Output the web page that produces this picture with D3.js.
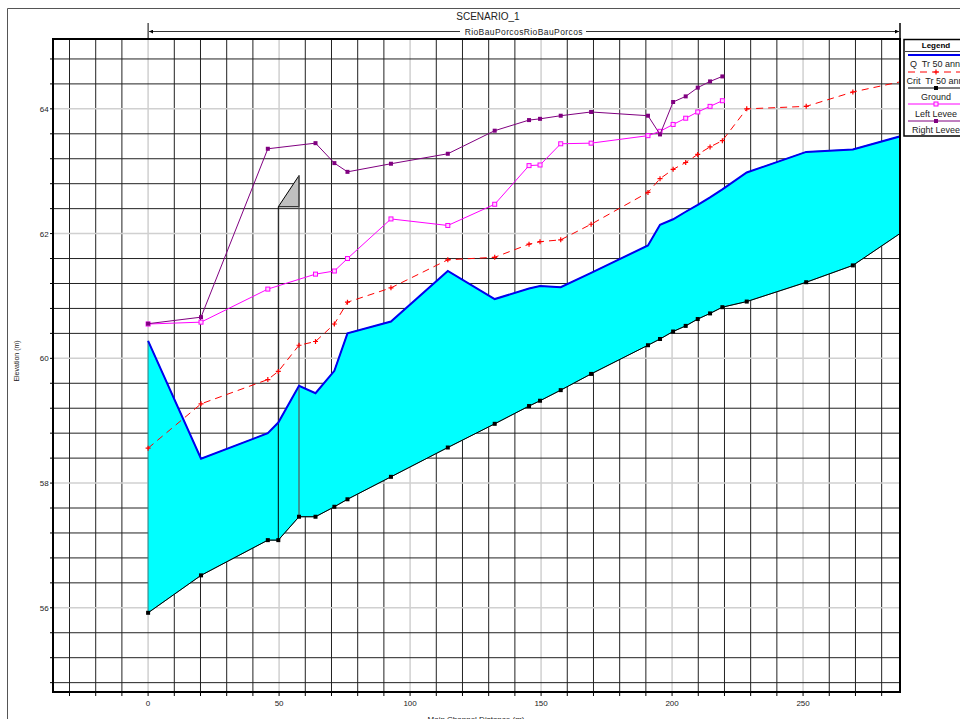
<!DOCTYPE html>
<html>
<head>
<meta charset="utf-8">
<script src="https://cdn.jsdelivr.net/npm/d3@7"></script>
<style>
  html, body { margin: 0; padding: 0; background: #fff; overflow: hidden; }
  svg { display: block; font-family: "Liberation Sans", Arial, sans-serif; }
</style>
</head>
<body>
<svg id="chart" width="960" height="719"></svg>
<script>
// ---------------- data ----------------
const title = "SCENARIO_1";
const reachLabel = "RioBauPorcosRioBauPorcos";
const xTitle = "Main Channel Distance (m)";
const yTitle = "Elevation (m)";

const stations = [0, 20.2, 45.7, 49.7, 57.6, 63.9, 71.1, 76.1, 92.7, 114.4, 132.3, 145.4, 149.6, 157.5, 169.1, 190.8, 195.4, 200.4, 205.2, 209.8, 214.5, 219.2, 228.5, 251.2, 269.0, 300];
const ground = [55.92, 56.52, 57.085, 57.085, 57.46, 57.46, 57.62, 57.74, 58.10, 58.57, 58.95, 59.235, 59.32, 59.49, 59.75, 60.21, 60.31, 60.43, 60.52, 60.63, 60.72, 60.82, 60.91, 61.22, 61.49, 62.37];
const wsTr50 = [60.28, 58.39, 58.80, 58.97, 59.56, 59.44, 59.80, 60.40, 60.59, 61.40, 60.95, 61.12, 61.16, 61.14, 61.37, 61.81, 62.14, 62.23, 62.35, 62.46, 62.58, 62.71, 62.98, 63.31, 63.35, 63.71];
const critTr50 = [58.56, 59.27, 59.66, 59.79, 60.21, 60.27, 60.55, 60.90, 61.13, 61.58, 61.62, 61.83, 61.87, 61.90, 62.15, 62.66, 62.88, 63.03, 63.14, 63.27, 63.39, 63.49, 64.00, 64.04, 64.27, 64.55];
const leftLevee = [60.55, 60.58, 61.11, null, null, 61.35, 61.40, 61.60, 62.235, 62.13, 62.47, 63.09, 63.10, 63.44, 63.45, 63.57, 63.64, 63.75, 63.85, 63.95, 64.04, 64.13];
const rightLevee = [60.555, 60.66, 63.36, null, null, 63.45, 63.13, 62.99, 63.12, 63.28, 63.65, 63.82, 63.84, 63.89, 63.95, 63.89, 63.59, 64.11, 64.20, 64.34, 64.44, 64.52];

// inline structure (between two stations)
const structStations = [49.7, 57.6];
const structDeck = [62.43, 62.93];

const xTickLabels = [0, 50, 100, 150, 200, 250];
const yTickLabels = [56, 58, 60, 62, 64];
const xDomain = [-36.3, 287];
const yDomain = [54.65, 65.12];

const legendItems = ["Q  Tr 50 anni", "Crit  Tr 50 anni", "Ground", "Left Levee", "Right Levee"];

// ---------------- layout ----------------
const svg = d3.select("#chart");
const L = 53, R = 900, T = 39, B = 692;
const x = d3.scaleLinear().domain(xDomain).range([L, R]);
const y = d3.scaleLinear().domain(yDomain).range([B, T]);
const MS = 4; // marker size

// outer frame
svg.append("line").attr("x1", 7.5).attr("x2", 7.5).attr("y1", 8.5).attr("y2", 719).attr("stroke", "#555");
svg.append("line").attr("x1", 7.5).attr("x2", 960).attr("y1", 8.5).attr("y2", 8.5).attr("stroke", "#555");

// title
svg.append("text").attr("x", 488).attr("y", 20).attr("text-anchor", "middle")
  .attr("font-size", 10).attr("fill", "#222").text(title);

// reach extent line
const defs = svg.append("defs");
defs.append("marker").attr("id", "arrL").attr("viewBox", "0 0 6 6").attr("refX", 0).attr("refY", 3)
  .attr("markerWidth", 5).attr("markerHeight", 5).attr("orient", "auto")
  .append("path").attr("d", "M6,0 L0,3 L6,6 Z").attr("fill", "#000");
defs.append("marker").attr("id", "arrR").attr("viewBox", "0 0 6 6").attr("refX", 6).attr("refY", 3)
  .attr("markerWidth", 5).attr("markerHeight", 5).attr("orient", "auto")
  .append("path").attr("d", "M0,0 L6,3 L0,6 Z").attr("fill", "#000");

const reachStart = x(0), reachEnd = R;
svg.append("line").attr("x1", reachStart).attr("x2", reachStart).attr("y1", 23).attr("y2", T).attr("stroke", "#000").attr("stroke-width", 1);
svg.append("line").attr("x1", reachEnd).attr("x2", reachEnd).attr("y1", 23).attr("y2", T).attr("stroke", "#000").attr("stroke-width", 1.5);
svg.append("line").attr("x1", reachStart + 1).attr("x2", 460).attr("y1", 31.5).attr("y2", 31.5)
  .attr("stroke", "#000").attr("stroke-width", 0.8).attr("marker-start", "url(#arrL)");
svg.append("line").attr("x1", 586).attr("x2", reachEnd - 1).attr("y1", 31.5).attr("y2", 31.5)
  .attr("stroke", "#000").attr("stroke-width", 0.8).attr("marker-end", "url(#arrR)");
svg.append("text").attr("x", 523.8).attr("y", 34.5).attr("text-anchor", "middle")
  .attr("font-size", 8.5).attr("letter-spacing", 0.4).attr("fill", "#222").text(reachLabel);

// clip
defs.append("clipPath").attr("id", "plotClip").append("rect")
  .attr("x", L).attr("y", T).attr("width", R - L).attr("height", B - T);

// grid
const grid = svg.append("g");
const xGrid = d3.range(-30, 290, 10);
xGrid.forEach(v => {
  const major = xTickLabels.includes(v);
  grid.append("line").attr("x1", x(v)).attr("x2", x(v)).attr("y1", T).attr("y2", B)
    .attr("stroke", major ? "#d0d0d0" : "#222").attr("stroke-width", major ? 1.5 : 1);
  grid.append("line").attr("x1", x(v)).attr("x2", x(v)).attr("y1", B).attr("y2", B + 4)
    .attr("stroke", "#000").attr("stroke-width", 1);
});
const yGrid = d3.range(0, 26).map(i => +(54.8 + 0.4 * i).toFixed(1));
yGrid.forEach(v => {
  const major = yTickLabels.includes(v);
  grid.append("line").attr("x1", L).attr("x2", R).attr("y1", y(v)).attr("y2", y(v))
    .attr("stroke", major ? "#d0d0d0" : "#222").attr("stroke-width", major ? 1.5 : 1);
  grid.append("line").attr("x1", L - 3).attr("x2", L).attr("y1", y(v)).attr("y2", y(v))
    .attr("stroke", "#000").attr("stroke-width", 1);
});

// tick labels
xTickLabels.forEach(v => {
  svg.append("text").attr("x", x(v)).attr("y", 706).attr("text-anchor", "middle")
    .attr("font-size", 8).attr("fill", "#222").text(v);
});
yTickLabels.forEach(v => {
  svg.append("text").attr("x", 48.7).attr("y", y(v) + 3).attr("text-anchor", "end")
    .attr("font-size", 8).attr("fill", "#222").text(v);
});

// axis titles
svg.append("text").attr("x", 476).attr("y", 721.5).attr("text-anchor", "middle")
  .attr("font-size", 8).attr("fill", "#222").text(xTitle);
svg.append("text").attr("transform", "translate(19,361) rotate(-90)").attr("text-anchor", "middle")
  .attr("font-size", 7).attr("fill", "#222").text(yTitle);

// plot content
const plot = svg.append("g").attr("clip-path", "url(#plotClip)");

const wsData = stations.map((s, i) => ({ s, g: ground[i], w: wsTr50[i] }));
plot.append("path").datum(wsData)
  .attr("d", d3.area().x(d => x(d.s)).y0(d => y(d.g)).y1(d => y(d.w)))
  .attr("fill", "#00ffff").attr("stroke", "#2a8a8a").attr("stroke-width", 1);

// structure
const sx0 = x(structStations[0]), sx1 = x(structStations[1]);
const sg0 = ground[stations.indexOf(structStations[0])];
const sg1 = ground[stations.indexOf(structStations[1])];
plot.append("path")
  .attr("d", `M${sx0},${y(structDeck[0])} L${sx1},${y(structDeck[0])} L${sx1},${y(structDeck[1])} Z`)
  .attr("fill", "#c0c0c0").attr("stroke", "#000").attr("stroke-width", 1);
plot.append("line").attr("x1", sx0).attr("x2", sx0).attr("y1", y(structDeck[0])).attr("y2", y(sg0))
  .attr("stroke", "#000").attr("stroke-width", 1);
plot.append("line").attr("x1", sx1).attr("x2", sx1).attr("y1", y(structDeck[1])).attr("y2", y(sg1))
  .attr("stroke", "#555").attr("stroke-width", 1.6).attr("stroke-opacity", 0.75);

// water surface line
plot.append("path").datum(wsData)
  .attr("d", d3.line().x(d => x(d.s)).y(d => y(d.w)))
  .attr("fill", "none").attr("stroke", "#0000ee").attr("stroke-width", 2);

// ground
plot.append("path").datum(wsData)
  .attr("d", d3.line().x(d => x(d.s)).y(d => y(d.g)))
  .attr("fill", "none").attr("stroke", "#000").attr("stroke-width", 1);
plot.selectAll(".gm").data(wsData).enter().append("rect")
  .attr("x", d => x(d.s) - MS / 2).attr("y", d => y(d.g) - MS / 2).attr("width", MS).attr("height", MS)
  .attr("fill", "#000");

// critical
const critData = stations.map((s, i) => ({ s, v: critTr50[i] }));
plot.append("path").datum(critData)
  .attr("d", d3.line().x(d => x(d.s)).y(d => y(d.v)))
  .attr("fill", "none").attr("stroke", "#ff0000").attr("stroke-width", 1).attr("stroke-dasharray", "7,5");
critData.forEach(d => {
  const cx = x(d.s), cy = y(d.v);
  plot.append("path").attr("d", `M${cx - 2.5},${cy} H${cx + 2.5} M${cx},${cy - 2.5} V${cy + 2.5}`)
    .attr("stroke", "#ff0000").attr("stroke-width", 1.2);
});

// levees
const llData = leftLevee.map((v, i) => ({ s: stations[i], v })).filter(d => d.v !== null);
const rlData = rightLevee.map((v, i) => ({ s: stations[i], v })).filter(d => d.v !== null);
plot.append("path").datum(llData)
  .attr("d", d3.line().x(d => x(d.s)).y(d => y(d.v)))
  .attr("fill", "none").attr("stroke", "#ff00ff").attr("stroke-width", 1);
plot.selectAll(".llm").data(llData).enter().append("rect")
  .attr("x", d => x(d.s) - MS / 2).attr("y", d => y(d.v) - MS / 2).attr("width", MS).attr("height", MS)
  .attr("fill", "#ffd8ff").attr("stroke", "#ff00ff").attr("stroke-width", 1);
plot.append("path").datum(rlData)
  .attr("d", d3.line().x(d => x(d.s)).y(d => y(d.v)))
  .attr("fill", "none").attr("stroke", "#800080").attr("stroke-width", 1);
plot.selectAll(".rlm").data(rlData).enter().append("rect")
  .attr("x", d => x(d.s) - MS / 2).attr("y", d => y(d.v) - MS / 2).attr("width", MS).attr("height", MS)
  .attr("fill", "#800080");

// plot border
svg.append("rect").attr("x", L).attr("y", T).attr("width", R - L).attr("height", B - T)
  .attr("fill", "none").attr("stroke", "#000").attr("stroke-width", 2);

// legend
const lg = svg.append("g");
const lgL = 904, lgC = 936, lgW = 64;
lg.append("rect").attr("x", lgL).attr("y", 39.5).attr("width", lgW).attr("height", 96.5)
  .attr("fill", "#fff").attr("stroke", "#000").attr("stroke-width", 1.5);
lg.append("text").attr("x", lgC).attr("y", 47.5).attr("text-anchor", "middle")
  .attr("font-size", 8).attr("font-weight", "bold").attr("fill", "#000").text("Legend");
lg.append("line").attr("x1", lgL).attr("x2", lgL + lgW).attr("y1", 51.5).attr("y2", 51.5)
  .attr("stroke", "#444").attr("stroke-width", 1);
const lineYs = [55, 72, 88, 104, 121];
const textYs = [67, 84, 99.5, 116.5, 132.5];
const legendStyles = [
  { stroke: "#0000ee", w: 2, dash: null, marker: null },
  { stroke: "#ff0000", w: 1, dash: "7,5", marker: "plus" },
  { stroke: "#000", w: 1, dash: null, marker: "fill" },
  { stroke: "#ff00ff", w: 1, dash: null, marker: "open" },
  { stroke: "#800080", w: 1, dash: null, marker: "fill" }
];
legendItems.forEach((name, i) => {
  const st = legendStyles[i];
  const ly = lineYs[i];
  const ln = lg.append("line").attr("x1", 908).attr("x2", lgL + lgW).attr("y1", ly).attr("y2", ly)
    .attr("stroke", st.stroke).attr("stroke-width", st.w);
  if (st.dash) ln.attr("stroke-dasharray", st.dash);
  if (st.marker === "plus") {
    lg.append("path").attr("d", `M${lgC - 2.5},${ly} H${lgC + 2.5} M${lgC},${ly - 2.5} V${ly + 2.5}`)
      .attr("stroke", st.stroke).attr("stroke-width", 1.2);
  } else if (st.marker === "fill") {
    lg.append("rect").attr("x", lgC - MS / 2).attr("y", ly - MS / 2).attr("width", MS).attr("height", MS).attr("fill", st.stroke);
  } else if (st.marker === "open") {
    lg.append("rect").attr("x", lgC - MS / 2).attr("y", ly - MS / 2).attr("width", MS).attr("height", MS)
      .attr("fill", "#ffd8ff").attr("stroke", st.stroke);
  }
  lg.append("text").attr("x", lgC).attr("y", textYs[i]).attr("text-anchor", "middle")
    .attr("font-size", 9).attr("fill", "#222").style("white-space", "pre").text(name);
});
</script>
</body>
</html>
